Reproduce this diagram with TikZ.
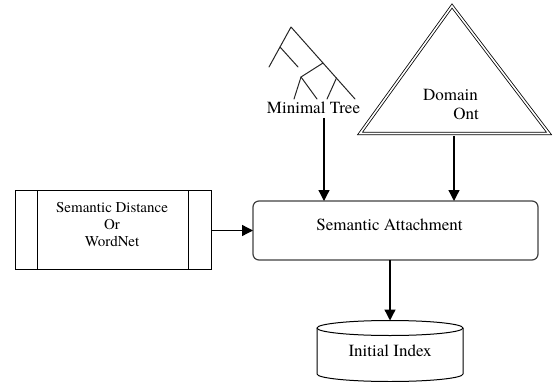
\documentclass[tikz,border=0pt]{standalone}
\usepackage{fontspec}
\setmainfont{texgyretermes}[Extension=.otf,UprightFont=*-regular,BoldFont=*-bold,ItalicFont=*-italic,BoldItalicFont=*-bolditalic]
\usetikzlibrary{arrows.meta,calc}
\begin{document}
\begin{tikzpicture}[x=1pt,y=-1pt,
  every node/.style={inner sep=0pt,outer sep=0pt},
  bigtext/.style={font=\rmfamily\fontsize{17}{20}\selectfont},
  smalltext/.style={font=\rmfamily\fontsize{15}{17}\selectfont,align=center},
  frame/.style={draw=black,line width=1pt},
  flow/.style={draw=black,line width=1.3pt,-{Triangle[length=11pt,width=11pt]}},
  branch/.style={draw=black!85,line width=1pt,line cap=round,line join=round}]
\useasboundingbox (0,0) rectangle (553,382);
\clip (0,0) rectangle (553,382);

% knowledge source box with side bars
\node[frame,minimum width=196pt,minimum height=79pt] (sd) at (113,229.5) {};
\draw[frame] ($(sd.north west)+(22,0)$) -- ($(sd.south west)+(22,0)$);
\draw[frame] ($(sd.north east)+(-23,0)$) -- ($(sd.south east)+(-23,0)$);
\node[smalltext] (sdtext) at (112,225) {Semantic Distance\\Or\\WordNet};

% central process
\node[draw=black!75,line width=1.2pt,rounded corners=6pt,
      minimum width=285pt,minimum height=59pt] (sa) at (395.5,230.5) {};
\node[bigtext] (satext) at (389.5,225) {Semantic Attachment};

% minimal tree sketch
\draw[branch] (269,67) -- (291,27) -- (355,99);
\draw[branch] (280,47) -- (298,67);
\draw[branch] (323,63) -- (301,77) -- (294,99);
\draw[branch] (301,77) -- (317,99);
\draw[branch] (336.5,78) -- (327,99);
\node[bigtext] (mt) at (313.5,108) {Minimal Tree};
\coordinate (mtfoot) at (324,118);

% domain ontology triangle
\draw[line width=0.8pt,double=white,double distance=1.6pt,line join=miter]
  (452,6) -- (549,133.5) -- (360,133.5) -- cycle;
\node[bigtext] (dom) at (450.5,95) {Domain};
\node[bigtext] (ont) at (466,114) {Ont};
\coordinate (ontbase) at (454,136);

% index cylinder
\coordinate (idxtop) at (390,320.5);
\draw[frame] (390,328) ellipse [x radius=73,y radius=7.5];
\draw[frame] (317,328) -- (317,374)
  arc[start angle=180,end angle=0,x radius=73,y radius=7.5] -- (463,328);
\node[bigtext] (idx) at (390,351) {Initial Index};

% connectors
\draw[flow] (mtfoot) -- (mtfoot |- sa.north);
\draw[flow] (ontbase) -- (ontbase |- sa.north);
\draw[flow] (sd.east |- sa.west) -- (sa.west);
\draw[flow] (sa.south -| idxtop) -- (idxtop);
\end{tikzpicture}
\end{document}
